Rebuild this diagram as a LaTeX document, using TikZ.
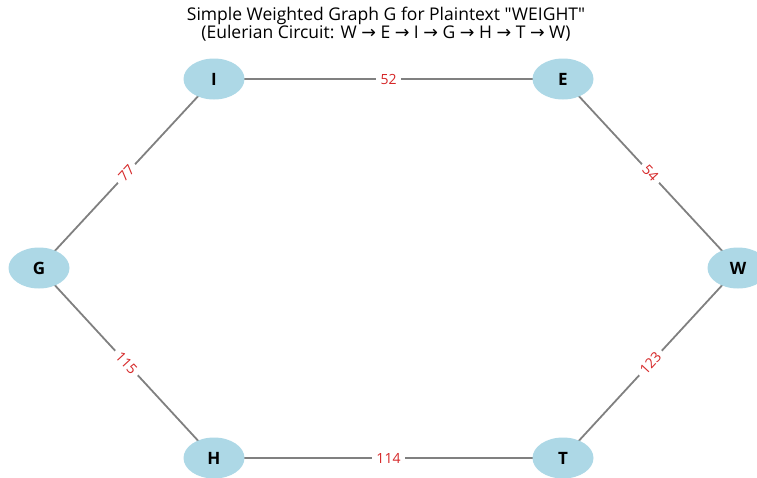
\documentclass[tikz,border=0pt]{standalone}
\usepackage{fontspec}
\setmainfont{Open Sans}
\newfontfamily\plainfont{Open Sans}
\newfontfamily\arrowfont{DejaVu Sans}
\usetikzlibrary{shapes.geometric}
\definecolor{nodeblue}{RGB}{173,216,230}
\definecolor{edgegray}{RGB}{128,128,128}
\definecolor{labelred}{RGB}{214,39,40}
\newcommand{\arr}{{\arrowfont →}}
\begin{document}
\begin{tikzpicture}[x=1pt,y=-1pt,
  vertex/.style={ellipse, fill=nodeblue, minimum width=61pt, minimum height=41pt, inner sep=0pt, font=\fontsize{17}{17}\selectfont\bfseries},
  edge/.style={draw=edgegray, line width=1.8pt},
  wlabel/.style={fill=white, text=labelred, inner xsep=4.5pt, inner ysep=1.5pt, font=\fontsize{14}{14}\selectfont, sloped},
  title/.style={align=center, font=\plainfont\fontsize{17.5}{18.5}\selectfont}]
\useasboundingbox (0,0) rectangle (757,477);
\node[title] (title) at (386,24) {Simple Weighted Graph G for Plaintext "WEIGHT"\\(Eulerian Circuit: W \arr{} E \arr{} I \arr{} G \arr{} H \arr{} T \arr{} W)};
\coordinate (pI) at (214,79);
\coordinate (pE) at (563,79);
\coordinate (pG) at (39,268);
\coordinate (pW) at (738,268);
\coordinate (pH) at (214,458);
\coordinate (pT) at (563,458);
\draw[edge] (pI) -- node[wlabel] (l52) {52} (pE);
\draw[edge] (pE) -- node[wlabel] (l54) {54} (pW);
\draw[edge] (pG) -- node[wlabel] (l77) {77} (pI);
\draw[edge] (pG) -- node[wlabel] (l115) {115} (pH);
\draw[edge] (pH) -- node[wlabel] (l114) {114} (pT);
\draw[edge] (pT) -- node[wlabel] (l123) {123} (pW);
\node[vertex] (I) at (pI) {I};
\node[vertex] (E) at (pE) {E};
\node[vertex] (G) at (pG) {G};
\node[vertex] (W) at (pW) {W};
\node[vertex] (H) at (pH) {H};
\node[vertex] (T) at (pT) {T};
\end{tikzpicture}
\end{document}
